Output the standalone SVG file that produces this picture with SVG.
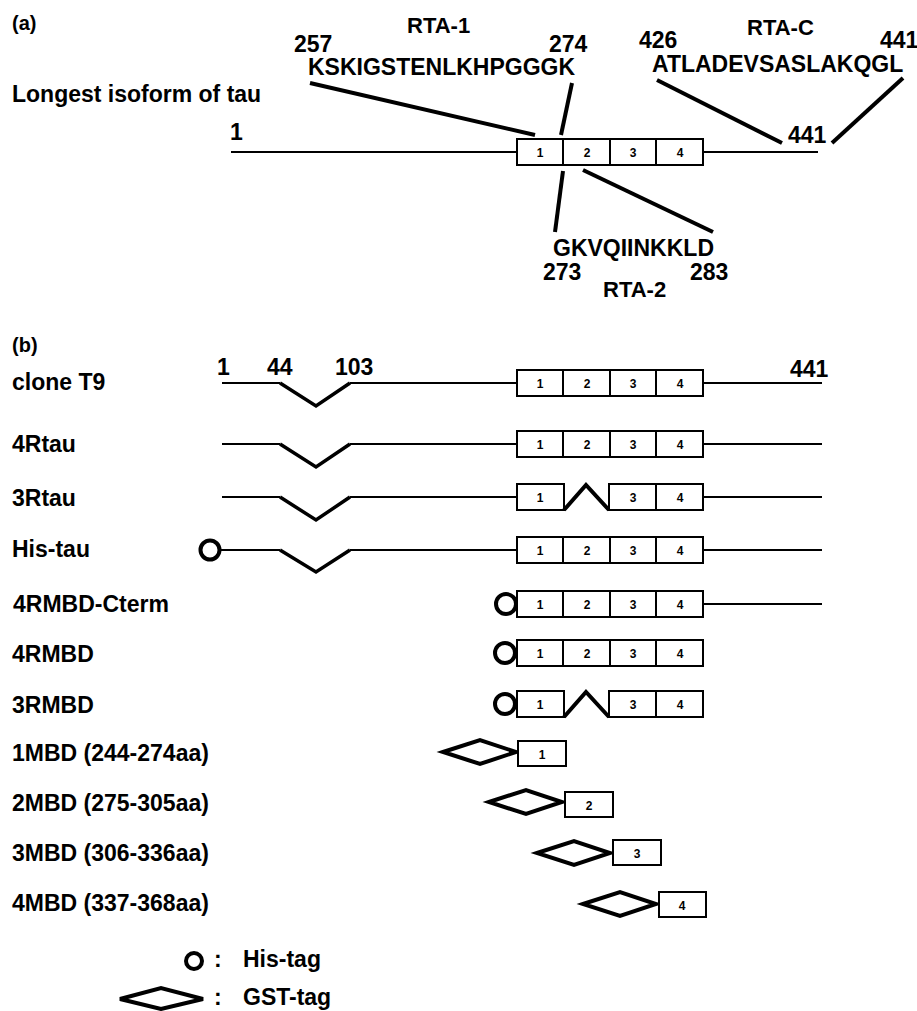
<svg xmlns="http://www.w3.org/2000/svg" width="917" height="1011" viewBox="0 0 917 1011">
<style>
text{font-family:"Liberation Sans",Arial,Helvetica,sans-serif;font-weight:bold;fill:#000}
.lbl{font-size:23px}
.num{font-size:23px}
.rta{font-size:22px}
.pan{font-size:20px}
.bn{font-size:12px;text-anchor:middle}
.ln{stroke:#000;stroke-width:2;fill:none}
.bx{stroke:#000;stroke-width:2;fill:#fff}
.thick{stroke:#000;stroke-width:4;fill:none;stroke-linecap:butt}
.v{stroke:#000;stroke-width:3.5;fill:none;stroke-linejoin:miter}
.tag{stroke:#000;stroke-width:4;fill:#fff}
</style>
<rect width="917" height="1011" fill="#fff"/>

<!-- (a) -->
<g id="panel-a-labels">
<text class="pan" x="12" y="30">(a)</text>
<text class="lbl" x="12" y="102">Longest isoform of tau</text>
<text class="rta" x="407" y="33">RTA-1</text>
<text class="num" x="294" y="52">257</text>
<text class="num" x="549" y="52">274</text>
<text class="lbl" x="308" y="75">KSKIGSTENLKHPGGGK</text>
<text class="rta" x="747" y="35">RTA-C</text>
<text class="num" x="639" y="48">426</text>
<text class="num" x="880" y="48">441</text>
<text class="lbl" x="652" y="72">ATLADEVSASLAKQGL</text>
<text class="lbl" x="553" y="256">GKVQIINKKLD</text>
<text class="num" x="543" y="280">273</text>
<text class="num" x="690" y="280">283</text>
<text class="rta" x="603" y="297">RTA-2</text>
</g>

<g id="tau-longest">
<line class="ln" x1="231" y1="152" x2="517" y2="152"/>
<line class="ln" x1="703" y1="152" x2="818" y2="152"/>
<rect class="bx" x="517" y="139" width="186" height="26"/>
<line class="ln" x1="563" y1="139" x2="563" y2="165"/>
<line class="ln" x1="610" y1="139" x2="610" y2="165"/>
<line class="ln" x1="656" y1="139" x2="656" y2="165"/>
<text class="bn" x="540" y="157">1</text>
<text class="bn" x="587" y="157">2</text>
<text class="bn" x="633" y="157">3</text>
<text class="bn" x="680" y="157">4</text>
<text class="num" x="230" y="140">1</text>
<text class="num" x="788" y="143">441</text>
</g>

<g id="connectors">
<line class="thick" x1="310" y1="83" x2="535" y2="135"/>
<line class="thick" x1="572" y1="83" x2="561" y2="135"/>
<line class="thick" x1="563" y1="171" x2="555" y2="232"/>
<line class="thick" x1="583" y1="170" x2="713" y2="232"/>
<line class="thick" x1="657" y1="80" x2="782" y2="143"/>
<line class="thick" x1="903" y1="78" x2="832" y2="143"/>
</g>

<!-- (b) -->
<g id="panel-b-labels">
<text class="pan" x="12" y="352">(b)</text>
<text class="num" x="217" y="375">1</text>
<text class="num" x="267" y="375">44</text>
<text class="num" x="335" y="375">103</text>
<text class="num" x="790" y="377">441</text>
</g>

<g id="clone-T9">
<text class="lbl" x="12" y="390">clone T9</text>
<polyline class="ln" points="222,383 280,383"/>
<polyline class="v" points="280,383 316,406 350,383"/>
<line class="ln" x1="350" y1="383" x2="517" y2="383"/>
<line class="ln" x1="703" y1="383" x2="822" y2="383"/>
<rect class="bx" x="517" y="370" width="186" height="26"/>
<line class="ln" x1="563" y1="370" x2="563" y2="396"/>
<line class="ln" x1="610" y1="370" x2="610" y2="396"/>
<line class="ln" x1="656" y1="370" x2="656" y2="396"/>
<text class="bn" x="540" y="388">1</text>
<text class="bn" x="587" y="388">2</text>
<text class="bn" x="633" y="388">3</text>
<text class="bn" x="680" y="388">4</text>
</g>

<g id="4Rtau">
<text class="lbl" x="12" y="452">4Rtau</text>
<line class="ln" x1="222" y1="444" x2="280" y2="444"/>
<polyline class="v" points="280,444 316,467 350,444"/>
<line class="ln" x1="350" y1="444" x2="517" y2="444"/>
<line class="ln" x1="703" y1="444" x2="822" y2="444"/>
<rect class="bx" x="517" y="431" width="186" height="26"/>
<line class="ln" x1="563" y1="431" x2="563" y2="457"/>
<line class="ln" x1="610" y1="431" x2="610" y2="457"/>
<line class="ln" x1="656" y1="431" x2="656" y2="457"/>
<text class="bn" x="540" y="449">1</text>
<text class="bn" x="587" y="449">2</text>
<text class="bn" x="633" y="449">3</text>
<text class="bn" x="680" y="449">4</text>
</g>

<g id="3Rtau">
<text class="lbl" x="12" y="506">3Rtau</text>
<line class="ln" x1="222" y1="497" x2="280" y2="497"/>
<polyline class="v" points="280,497 316,520 350,497"/>
<line class="ln" x1="350" y1="497" x2="517" y2="497"/>
<line class="ln" x1="703" y1="497" x2="822" y2="497"/>
<rect class="bx" x="517" y="484" width="47" height="26"/>
<polyline class="thick" points="564,510 586,485 609,510"/>
<rect class="bx" x="609" y="484" width="94" height="26"/>
<line class="ln" x1="656" y1="484" x2="656" y2="510"/>
<text class="bn" x="540" y="502">1</text>
<text class="bn" x="633" y="502">3</text>
<text class="bn" x="680" y="502">4</text>
</g>

<g id="His-tau">
<text class="lbl" x="12" y="557">His-tau</text>
<line class="ln" x1="220" y1="550" x2="280" y2="550"/>
<circle class="tag" cx="210" cy="550" r="9.5"/>
<polyline class="v" points="280,550 316,572 350,550"/>
<line class="ln" x1="350" y1="550" x2="517" y2="550"/>
<line class="ln" x1="703" y1="550" x2="822" y2="550"/>
<rect class="bx" x="517" y="537" width="186" height="26"/>
<line class="ln" x1="563" y1="537" x2="563" y2="563"/>
<line class="ln" x1="610" y1="537" x2="610" y2="563"/>
<line class="ln" x1="656" y1="537" x2="656" y2="563"/>
<text class="bn" x="540" y="555">1</text>
<text class="bn" x="587" y="555">2</text>
<text class="bn" x="633" y="555">3</text>
<text class="bn" x="680" y="555">4</text>
</g>

<g id="4RMBD-Cterm">
<text class="lbl" x="13" y="612">4RMBD-Cterm</text>
<circle class="tag" cx="506" cy="604" r="10"/>
<line class="ln" x1="703" y1="604" x2="822" y2="604"/>
<rect class="bx" x="517" y="591" width="186" height="26"/>
<line class="ln" x1="563" y1="591" x2="563" y2="617"/>
<line class="ln" x1="610" y1="591" x2="610" y2="617"/>
<line class="ln" x1="656" y1="591" x2="656" y2="617"/>
<text class="bn" x="540" y="609">1</text>
<text class="bn" x="587" y="609">2</text>
<text class="bn" x="633" y="609">3</text>
<text class="bn" x="680" y="609">4</text>
</g>

<g id="4RMBD">
<text class="lbl" x="12" y="662">4RMBD</text>
<circle class="tag" cx="505" cy="653" r="10"/>
<rect class="bx" x="517" y="640" width="186" height="26"/>
<line class="ln" x1="563" y1="640" x2="563" y2="666"/>
<line class="ln" x1="610" y1="640" x2="610" y2="666"/>
<line class="ln" x1="656" y1="640" x2="656" y2="666"/>
<text class="bn" x="540" y="658">1</text>
<text class="bn" x="587" y="658">2</text>
<text class="bn" x="633" y="658">3</text>
<text class="bn" x="680" y="658">4</text>
</g>

<g id="3RMBD">
<text class="lbl" x="12" y="713">3RMBD</text>
<circle class="tag" cx="505" cy="704" r="10"/>
<rect class="bx" x="517" y="691" width="47" height="26"/>
<polyline class="thick" points="564,717 586,692 609,717"/>
<rect class="bx" x="609" y="691" width="94" height="26"/>
<line class="ln" x1="656" y1="691" x2="656" y2="717"/>
<text class="bn" x="540" y="709">1</text>
<text class="bn" x="633" y="709">3</text>
<text class="bn" x="680" y="709">4</text>
</g>

<g id="1MBD">
<text class="lbl" x="12" y="761">1MBD (244-274aa)</text>
<polygon class="tag" points="443,752 480,740 516,752 480,764"/>
<rect class="bx" x="518" y="741" width="48" height="25"/>
<text class="bn" x="542" y="759">1</text>
</g>

<g id="2MBD">
<text class="lbl" x="12" y="811">2MBD (275-305aa)</text>
<polygon class="tag" points="489,802 526,790 562,802 526,814"/>
<rect class="bx" x="565" y="792" width="48" height="25"/>
<text class="bn" x="589" y="810">2</text>
</g>

<g id="3MBD">
<text class="lbl" x="12" y="861">3MBD (306-336aa)</text>
<polygon class="tag" points="537,853 574,841 610,853 574,865"/>
<rect class="bx" x="613" y="840" width="48" height="25"/>
<text class="bn" x="637" y="858">3</text>
</g>

<g id="4MBD">
<text class="lbl" x="12" y="911">4MBD (337-368aa)</text>
<polygon class="tag" points="583,904 620,892 656,904 620,916"/>
<rect class="bx" x="659" y="892" width="47" height="25"/>
<text class="bn" x="682" y="910">4</text>
</g>

<g id="legend">
<circle class="tag" cx="194" cy="961" r="8"/>
<text class="lbl" x="214" y="967">:</text>
<text class="lbl" x="243" y="967">His-tag</text>
<polygon class="tag" points="120,999 161,988 203,999 161,1009"/>
<text class="lbl" x="214" y="1005">:</text>
<text class="lbl" x="243" y="1005">GST-tag</text>
</g>
</svg>
